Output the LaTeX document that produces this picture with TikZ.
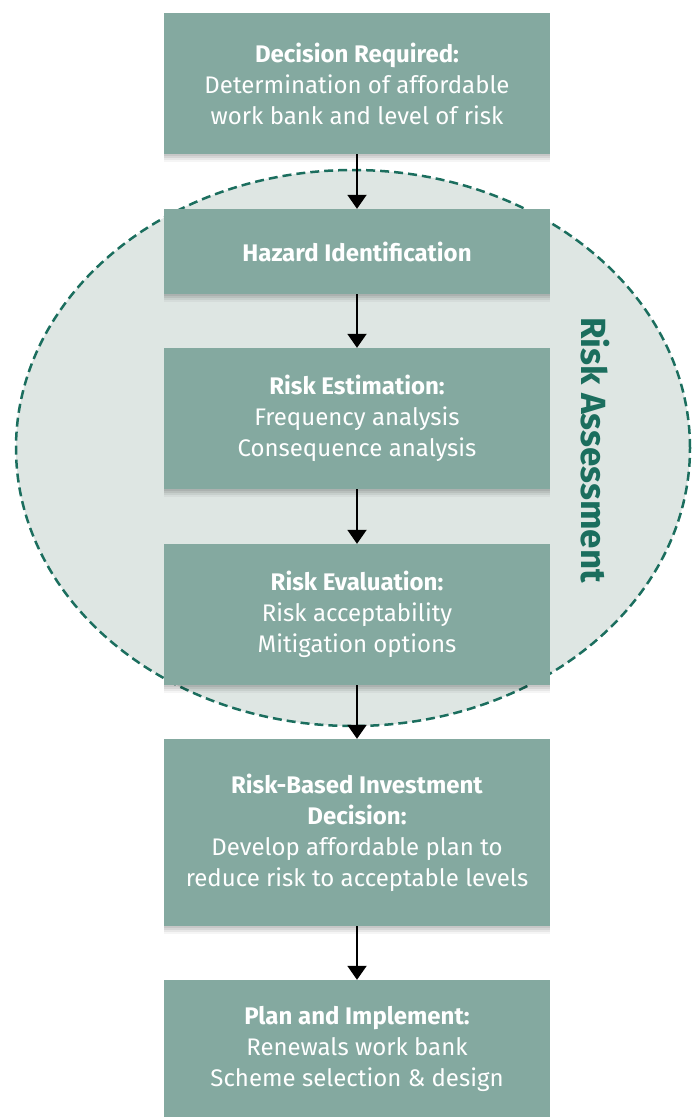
\documentclass[tikz,border=0pt]{standalone}
\usepackage{fontspec}
\setmainfont{Fira Sans}
\usepackage{tikz}
\usetikzlibrary{arrows.meta}
\definecolor{boxgreen}{HTML}{84A9A0}
\definecolor{darkgreen}{HTML}{1B6E5E}
\definecolor{palegreen}{HTML}{DEE6E3}
\tikzset{
    stepbox/.style={fill=boxgreen, text=white, minimum width=386pt, align=center,
        font=\fontsize{24}{31}\selectfont,
        preaction={fill=black, opacity=0.07, transform canvas={yshift=-2pt}},
        preaction={fill=black, opacity=0.07, transform canvas={yshift=-4pt}},
        preaction={fill=black, opacity=0.06, transform canvas={yshift=-6pt}},
        preaction={fill=black, opacity=0.04, transform canvas={yshift=-8pt}}},
    flow/.style={-{Triangle[width=19pt,length=14pt]}, line width=2pt, black}
}

\begin{document}
\begin{tikzpicture}[x=1pt,y=-1pt]
    \useasboundingbox (0,0) rectangle (696,1117);
    % risk assessment region
    \draw[fill=palegreen, draw=darkgreen, line width=2.5pt, dash pattern=on 9pt off 5pt]
        (353,448) ellipse [x radius=337pt, y radius=278pt];
    \node[text=darkgreen, rotate=-90, font=\fontsize{35}{35}\selectfont\bfseries] at (595,450) (ra) {Risk Assessment};
    \node[stepbox, minimum height=141pt] at (357,83.5) (decision) {\textbf{Decision Required:}\\Determination of affordable\\work bank and level of risk};
    \node[stepbox, minimum height=85pt] at (357,251.5) (hazard) {\textbf{Hazard Identification}};
    \node[stepbox, minimum height=141pt] at (357,418.5) (estimation) {\textbf{Risk Estimation:}\\Frequency analysis\\Consequence analysis};
    \node[stepbox, minimum height=141pt] at (357,614.5) (evaluation) {\textbf{Risk Evaluation:}\\Risk acceptability\\Mitigation options};
    \node[stepbox, minimum height=187pt] at (357,832.5) (investment) {\textbf{Risk-Based Investment}\\\textbf{Decision:}\\Develop affordable plan to\\reduce risk to acceptable levels};
    \node[stepbox, minimum height=137pt] at (357,1048.5) (implement) {\textbf{Plan and Implement:}\\Renewals work bank\\Scheme selection \& design};
    \draw[flow] (decision) -- (hazard);
    \draw[flow] (hazard) -- (estimation);
    \draw[flow] (estimation) -- (evaluation);
    \draw[flow] (evaluation) -- (investment);
    \draw[flow] (investment) -- (implement);
\end{tikzpicture}
\end{document}
